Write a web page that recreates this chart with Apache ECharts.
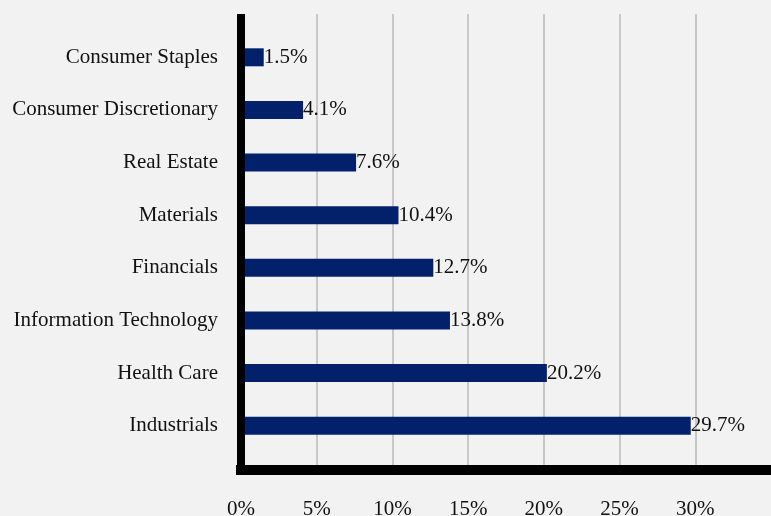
<!DOCTYPE html>
<html>
<head>
<meta charset="utf-8">
<script src="https://cdn.jsdelivr.net/npm/echarts@6/dist/echarts.min.js"></script>
<style>
  html, body { margin: 0; padding: 0; background: #f2f2f2; }
  #chart { width: 771px; height: 516px; }
</style>
</head>
<body>
<div id="chart"></div>
<script>
// sector weights, top to bottom as shown
var sectors = ['Consumer Staples', 'Consumer Discretionary', 'Real Estate', 'Materials',
               'Financials', 'Information Technology', 'Health Care', 'Industrials'];
var weights = [1.5, 4.1, 7.6, 10.4, 12.7, 13.8, 20.2, 29.7];
var xTicks = [0, 5, 10, 15, 20, 25, 30];

var font = 'Liberation Serif, Times New Roman, serif';
var myChart = echarts.init(document.getElementById('chart'));

var option = {
    backgroundColor: '#f2f2f2',
    animation: false,
    grid: [
        // frame: gridlines + thick axis lines
        { left: 241, right: 0, top: 14, bottom: 46, outerBoundsMode: 'none', containLabel: false },
        // bars
        { left: 241, right: 0, top: 31, bottom: 64, outerBoundsMode: 'none', containLabel: false }
    ],
    xAxis: [{
        gridIndex: 0,
        type: 'value',
        min: 0,
        max: 35,
        interval: 5,
        z: 0,
        axisLine: { show: true, lineStyle: { color: '#000', width: 10, cap: 'square' } },
        axisTick: { show: false },
        splitLine: { show: true, showMaxLine: false, lineStyle: { color: '#c8c8c8', width: 2 } },
        axisLabel: {
            margin: 29,
            fontSize: 21,
            fontFamily: font,
            color: '#111',
            formatter: function (v) {
                return xTicks.indexOf(v) >= 0 ? v + '%' : '';
            }
        }
    }, {
        gridIndex: 1,
        type: 'value',
        min: 0,
        max: 35,
        show: false
    }],
    yAxis: [{
        gridIndex: 0,
        type: 'value',
        z: 5,
        axisLine: { show: true, lineStyle: { color: '#000', width: 8, cap: 'butt' } },
        axisTick: { show: false },
        axisLabel: { show: false },
        splitLine: { show: false }
    }, {
        gridIndex: 1,
        type: 'category',
        inverse: true,
        data: sectors,
        axisLine: { show: false },
        axisTick: { show: false },
        axisLabel: {
            margin: 23,
            fontSize: 21,
            fontFamily: font,
            color: '#111'
        }
    }],
    series: [{
        name: 'Weight',
        type: 'bar',
        xAxisIndex: 1,
        yAxisIndex: 1,
        data: weights,
        barWidth: 18,
        itemStyle: { color: '#03206b' },
        label: {
            show: true,
            position: 'right',
            distance: 0,
            fontSize: 21,
            fontFamily: font,
            color: '#111',
            formatter: function (p) { return p.value.toFixed(1) + '%'; }
        }
    }]
};

myChart.setOption(option);
</script>
</body>
</html>
